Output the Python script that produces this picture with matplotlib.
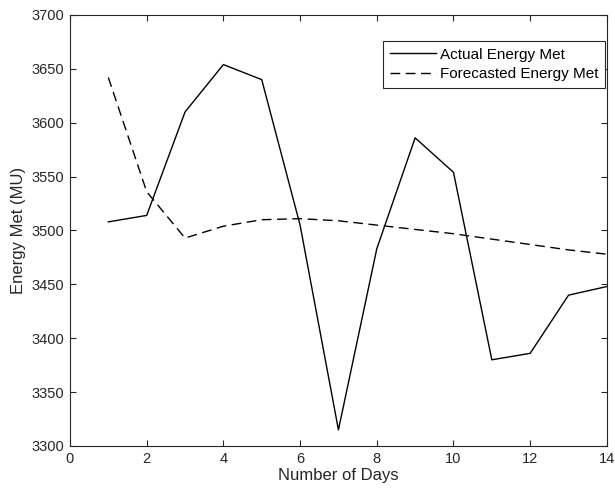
import numpy as np
import matplotlib.pyplot as plt

plt.rcParams['font.family'] = ['Liberation Sans', 'DejaVu Sans']

days = np.arange(1, 15)
actual = [3508, 3514, 3610, 3654, 3640, 3505, 3315, 3483, 3586, 3554, 3380, 3386, 3440, 3448]
forecast = [3642, 3536, 3493, 3504, 3510, 3511, 3509, 3505, 3501, 3497, 3492, 3487, 3482, 3478]

fig = plt.figure(figsize=(6.15, 5.0), dpi=100)
ax = fig.add_axes([0.1138, 0.108, 0.873, 0.862])

ax.plot(days, actual, color='black', lw=1.0, label='Actual Energy Met')
ax.plot(days, forecast, color='black', lw=1.0, ls=(0, (7, 4)), label='Forecasted Energy Met')

ax.set_xlim(0, 14)
ax.set_ylim(3300, 3700)
ax.set_xticks(np.arange(0, 15, 2))
ax.set_yticks(np.arange(3300, 3701, 50))
ax.tick_params(direction='in', top=True, right=True, length=4, labelsize=10.5,
               colors='#262626', width=0.8, pad=4)
for s in ax.spines.values():
    s.set_color('#262626')
    s.set_linewidth(0.8)

ax.set_xlabel('Number of Days', fontsize=12, color='#262626', labelpad=2)
ax.set_ylabel('Energy Met (MU)', fontsize=12, color='#262626', labelpad=4)

leg = ax.legend(loc='upper right', bbox_to_anchor=(0.997, 0.94), fontsize=11,
                fancybox=False, framealpha=1, edgecolor='#262626',
                handlelength=3.0, borderpad=0.45, labelspacing=0.36, handletextpad=0.25,
                borderaxespad=0)
leg.get_frame().set_linewidth(0.8)

fig.savefig('out.png', dpi=100)
